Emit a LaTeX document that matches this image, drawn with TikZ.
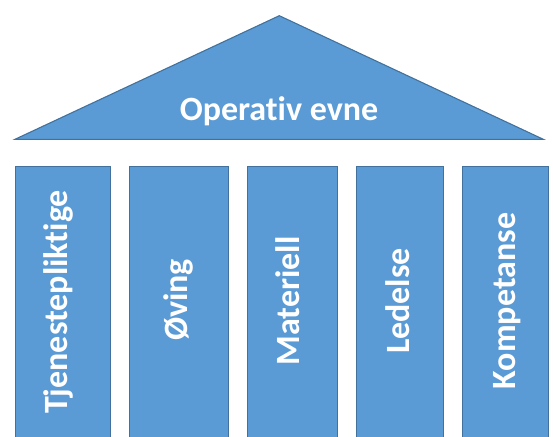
\documentclass[tikz,border=0pt]{standalone}
\usepackage{fontspec}
\setmainfont[Ligatures=NoCommon]{Carlito}
\definecolor{pfill}{HTML}{5B9BD5}
\definecolor{pline}{HTML}{41719C}
\begin{document}
\begin{tikzpicture}[x=1pt,y=-1pt,
  part/.style={fill=pfill,draw=pline,line width=1.1pt},
  pillar/.style={part,rectangle,inner sep=0pt,anchor=north west},
  ptext/.style={text=white,font=\bfseries\fontsize{34}{34}\selectfont,inner sep=0pt},
  vtext/.style={ptext,rotate=90,anchor=base}]
\useasboundingbox (0,0) rectangle (553,436);
% roof
\coordinate (rl) at (15,139.3);
\coordinate (rr) at (543.3,139.3);
\coordinate (ra) at (279.3,15.7);
\draw[part,line join=miter] (rl) -- (ra) -- (rr) -- cycle;
\node[ptext,anchor=base] (roof) at (279,120) {Operativ evne};
% pillars
\node[pillar,minimum width=95pt,minimum height=272pt] (c1) at (15,165.7) {};
\node[pillar,minimum width=98.4pt,minimum height=272pt] (c2) at (129.3,165.7) {};
\node[pillar,minimum width=90.3pt,minimum height=272pt] (c3) at (246.7,165.7) {};
\node[pillar,minimum width=86.7pt,minimum height=272pt] (c4) at (356.3,165.7) {};
\node[pillar,minimum width=86pt,minimum height=272pt] (c5) at (462,165.7) {};
\node[vtext] (t1) at (67,302) {Tjenestepliktige};
\node[vtext] (t2) at (187,300) {Øving};
\node[vtext] (t3) at (299.3,301) {Materiell};
\node[vtext] (t4) at (409.3,301) {Ledelse};
\node[vtext] (t5) at (515,301) {Kompetanse};
\end{tikzpicture}
\end{document}
